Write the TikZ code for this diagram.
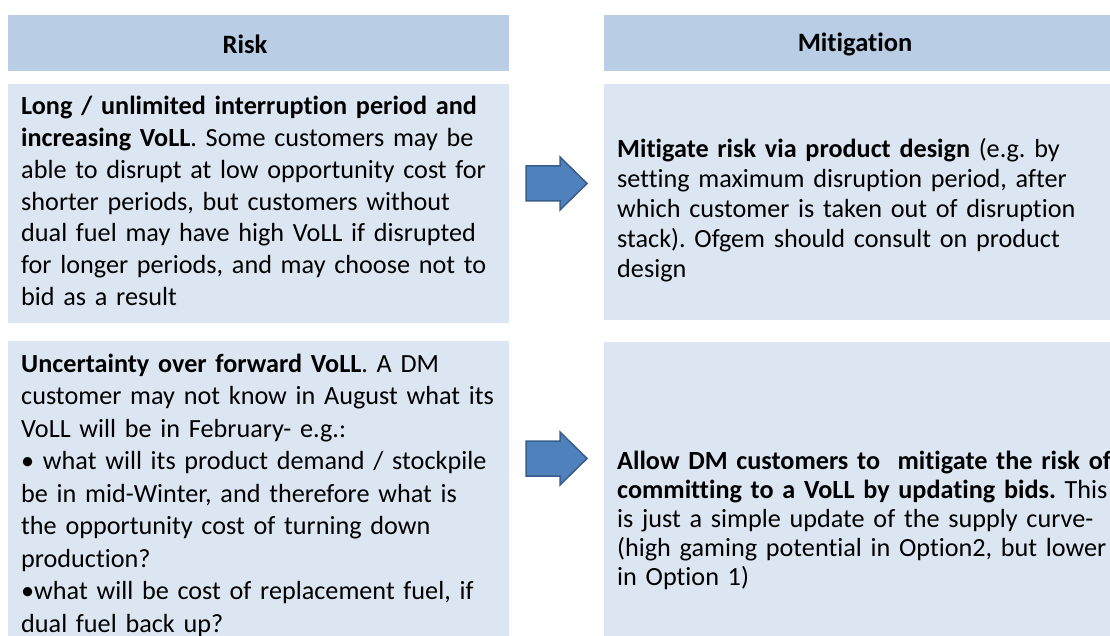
\documentclass[tikz,border=0pt]{standalone}
\usepackage{fontspec}
\setmainfont[Ligatures={NoCommon}]{Carlito}
\definecolor{hdrfill}{HTML}{B9CDE5}
\definecolor{boxfill}{HTML}{DCE6F2}
\definecolor{arrfill}{HTML}{4F81BD}
\definecolor{arrdraw}{HTML}{385D8A}
\tikzset{
  hdrbox/.style={fill=hdrfill, draw=none, anchor=north west, inner sep=0pt},
  txtbox/.style={fill=boxfill, draw=none, anchor=north west, inner sep=0pt},
  hdrtext/.style={font=\fontsize{26.5}{32}\selectfont\bfseries, inner sep=0pt},
  bodyL/.style={anchor=base west, inner sep=0pt, text width=520pt, align=left,
    font=\fontsize{26.2}{31.7}\selectfont\frenchspacing},
  bodyR/.style={anchor=base west, inner sep=0pt, text width=520pt, align=left,
    font=\fontsize{26.2}{30}\selectfont\frenchspacing},
  blockarrow/.style={fill=arrfill, draw=arrdraw, line width=1.5pt, line join=miter}
}
\begin{document}
\begin{tikzpicture}[x=1pt,y=-1pt]
\useasboundingbox (0,0) rectangle (1110,636);
% header bars
\node[hdrbox, minimum width=501pt, minimum height=56pt] (hl) at (8,15) {};
\node[hdrbox, minimum width=506pt, minimum height=56pt] (hr) at (604,15) {};
\node[hdrtext] (hlt) at (245,44) {Risk};
\node[hdrtext] (hrt) at (855,44) {Mitigation};
% content boxes
\node[txtbox, minimum width=501pt, minimum height=239pt] (bl1) at (8,84) {};
\node[txtbox, minimum width=506pt, minimum height=236pt] (br1) at (604,84) {};
\node[txtbox, minimum width=501pt, minimum height=295pt] (bl2) at (8,341) {};
\node[txtbox, minimum width=506pt, minimum height=294pt] (br2) at (604,342) {};
% texts
\node[bodyL] (tl1) at (21,115) {\textbf{Long / unlimited interruption period and}\\
\textbf{increasing VoLL}. Some customers may be\\
able to disrupt at low opportunity cost for\\
shorter periods, but customers without\\
dual fuel may have high VoLL if disrupted\\
for longer periods, and may choose not to\\
bid as a result};
\node[bodyR] (tr1) at (617,158) {\textbf{Mitigate risk via product design} (e.g. by\\
setting maximum disruption period, after\\
which customer is taken out of disruption\\
stack). Ofgem should consult on product\\
design};
\node[bodyL, font=\fontsize{26.2}{32.5}\selectfont\frenchspacing] (tl2) at (21,372) {\textbf{Uncertainty over forward VoLL}. A DM\\
customer may not know in August what its\\
VoLL will be in February- e.g.:\\
• what will its product demand / stockpile\\
be in mid-Winter, and therefore what is\\
the opportunity cost of turning down\\
production?\\
•what will be cost of replacement fuel, if\\
dual fuel back up?};
\node[bodyR, font=\fontsize{26.2}{29}\selectfont\frenchspacing] (tr2) at (617,469) {\textbf{Allow DM customers to\ \ mitigate the risk of}\\
\textbf{committing to a VoLL by updating bids.} This\\
is just a simple update of the supply curve-\\
(high gaming potential in Option2, but lower\\
in Option 1)};
% block arrows
\draw[blockarrow] (526,166) -- (560,166) -- (560,157) -- (587,183.5) -- (560,210) -- (560,201) -- (526,201) -- cycle;
\draw[blockarrow] (526,441) -- (560,441) -- (560,432) -- (587,458.5) -- (560,485) -- (560,476) -- (526,476) -- cycle;
\end{tikzpicture}
\end{document}
